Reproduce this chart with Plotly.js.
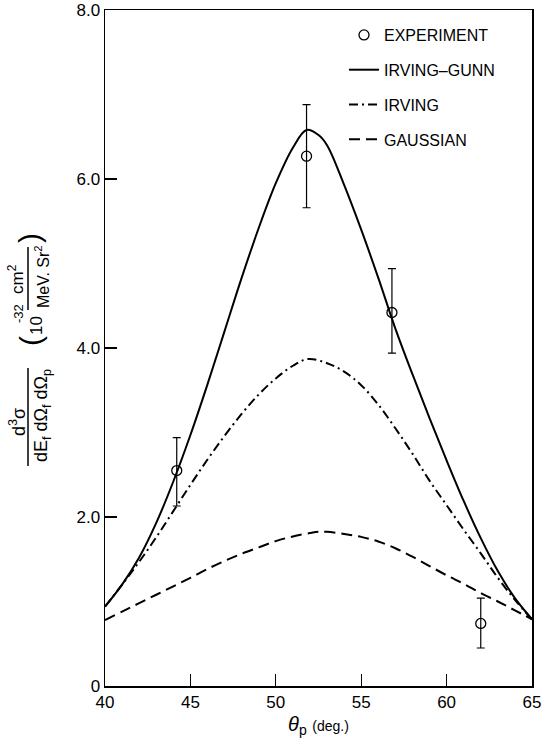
<!DOCTYPE html>
<html>
<head>
<meta charset="utf-8">
<script src="https://cdn.plot.ly/plotly-3.0.1.min.js"></script>
<style>html,body{margin:0;padding:0;background:#fff;}#chart{width:544px;height:738px;}</style>
</head>
<body>
<div id="chart"></div>
<script>
// Experiment
const theta_exp = [44.2, 51.8, 56.8, 62.0];
const sigma_exp = [2.55, 6.27, 4.42, 0.74];
const err_plus  = [0.39, 0.61, 0.52, 0.30];
const err_minus = [0.42, 0.61, 0.48, 0.29];

// Irving-Gunn (solid)
const theta_ig = [40,41,42,43,44,45,46,47,48,49,50,51,51.8,52.5,53,54,55,56,57,58,59,60,61,62,63,64,65];
const sigma_ig = [0.94,1.2,1.52,1.93,2.42,2.97,3.57,4.2,4.83,5.42,5.95,6.37,6.58,6.52,6.4,5.93,5.4,4.83,4.23,3.69,3.17,2.67,2.19,1.75,1.36,1.04,0.79];

// Irving (dash-dot)
const theta_irv = [40,41,42,43,44,45,46,47,48,49,50,51,51.9,53,54,55,56,57,58,59,60,61,62,63,64,65];
const sigma_irv = [0.94,1.2,1.47,1.76,2.07,2.38,2.68,2.96,3.22,3.45,3.64,3.79,3.87,3.82,3.72,3.56,3.33,3.05,2.75,2.43,2.14,1.85,1.57,1.28,1.02,0.79];

// Gaussian (dashed)
const theta_gau = [40,41,42,43,44,45,46,47,48,49,50,51,52,52.5,53,54,55,56,57,58,59,60,61,62,63,64,65];
const sigma_gau = [0.78,0.88,0.98,1.08,1.18,1.28,1.385,1.48,1.565,1.64,1.715,1.77,1.81,1.825,1.825,1.8,1.765,1.71,1.63,1.53,1.42,1.31,1.21,1.1,1.0,0.895,0.79];

// Tick labels
const xTicks = [40,45,50,55,60,65];
const xTickText = ["40","45","50","55","60","65"];
const yTicks = [0,2,4,6,8];
const yTickText = ["0","2.0","4.0","6.0","8.0"];

const FONT = "Liberation Sans, Arial, sans-serif";

const traces = [
  {x: theta_exp, y: sigma_exp, mode: 'markers', name: 'EXPERIMENT', legendgroup: 'a',
   marker: {symbol: 'circle-open', size: 10, color: '#000', line: {width: 1.3, color: '#000'}},
   error_y: {type: 'data', symmetric: false, array: err_plus, arrayminus: err_minus, color: '#000', thickness: 1.2, width: 4}},
  {x: theta_ig, y: sigma_ig, mode: 'lines', name: 'IRVING\u2013GUNN', legendgroup: 'b',
   line: {shape: 'spline', smoothing: 1, color: '#000', width: 2}},
  {x: theta_irv, y: sigma_irv, mode: 'lines', name: 'IRVING', legendgroup: 'c',
   line: {shape: 'spline', smoothing: 1, color: '#000', width: 2, dash: '9px,4px,2px,4px'}},
  {x: theta_gau, y: sigma_gau, mode: 'lines', name: 'GAUSSIAN', legendgroup: 'd',
   line: {shape: 'spline', smoothing: 1, color: '#000', width: 2, dash: '11px,6px'}}
];

// helpers to place axis-title pieces in pixel terms
const L = 105, R = 532, T = 10, B = 686;
const px = v => (v - L) / (R - L);
const py = v => (B - v) / (B - T);

const ann = (text, x, y, size) => ({text, x: px(x), y: py(y), xref: 'paper', yref: 'paper',
  showarrow: false, textangle: -90, font: {family: FONT, size: size || 15, color: '#000'},
  xanchor: 'center', yanchor: 'middle'});

const layout = {
  width: 544, height: 738,
  margin: {l: L, r: 544 - R, t: T, b: 738 - B},
  paper_bgcolor: '#fff', plot_bgcolor: '#fff',
  font: {family: FONT, color: '#000', size: 15},
  showlegend: true,
  legend: {x: px(344), y: py(18), xanchor: 'left', yanchor: 'top', bgcolor: 'rgba(0,0,0,0)',
    font: {family: FONT, size: 16, color: '#000'}, tracegroupgap: 11, traceorder: 'grouped'},
  xaxis: {range: [40, 65], tickvals: xTicks, ticktext: xTickText, ticks: 'inside', ticklen: 12,
    tickwidth: 1.3, tickcolor: '#000', showgrid: false, zeroline: false, showline: true, linewidth: 1.5,
    linecolor: '#000', mirror: true, tickfont: {family: FONT, size: 17},
    title: {text: '<i>θ</i><sub>p</sub> <span style="font-size:14px">(deg.)</span>', font: {family: FONT, size: 20}, standoff: 6}},
  yaxis: {range: [0, 8], tickvals: yTicks, ticktext: yTickText, ticks: 'inside', ticklen: 12,
    tickwidth: 1.3, tickcolor: '#000', showgrid: false, zeroline: false, showline: true, linewidth: 1.5,
    linecolor: '#000', mirror: true, tickfont: {family: FONT, size: 17}},
  annotations: [
    ann('d<sup>3</sup>σ', 17, 422, 18),
    ann('dE<sub>f</sub> dΩ<sub>f</sub> dΩ<sub>p</sub>', 42, 416, 18),
    ann('(', 30, 341, 30),
    ann('10', 37, 326, 17),
    ann('-32', 18, 314, 13),
    ann('cm<sup>2</sup>', 16, 279, 17),
    ann('MeV. Sr<sup>2</sup>', 42, 277, 16),
    ann(')', 30, 238, 30)
  ],
  shapes: [
    {type: 'line', xref: 'paper', yref: 'paper', x0: px(28), x1: px(28), y0: py(368), y1: py(466), line: {color: '#000', width: 1.5}},
    {type: 'line', xref: 'paper', yref: 'paper', x0: px(28), x1: px(28), y0: py(247), y1: py(310), line: {color: '#000', width: 1.5}}
  ]
};

Plotly.newPlot('chart', traces, layout, {displayModeBar: false, staticPlot: true});
</script>
</body>
</html>
